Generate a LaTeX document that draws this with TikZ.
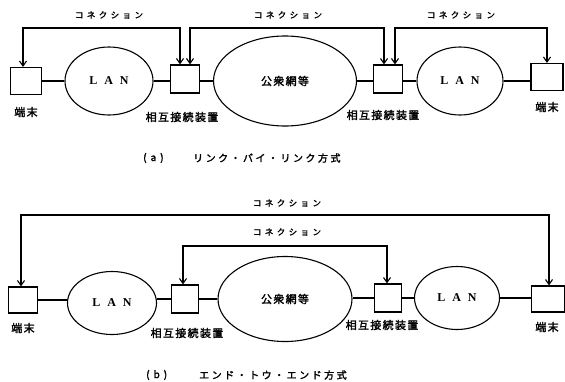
\documentclass[tikz,border=0pt]{standalone}
\usepackage{fontspec}
\setmainfont{Liberation Serif}
\newfontfamily\jpconn[LetterSpace=40,FakeBold=2]{Noto Sans CJK JP}
\newfontfamily\jplabel[LetterSpace=12,FakeBold=2]{Noto Sans CJK JP}
\newfontfamily\jpcap[LetterSpace=25,FakeBold=2]{Noto Sans CJK JP}
\usetikzlibrary{shapes.geometric,arrows.meta}
\tikzset{
  termbox/.style={draw, line width=1.1pt, minimum width=31pt, minimum height=27pt, inner sep=0pt},
  relaybox/.style={draw, line width=1.1pt, minimum width=29pt, minimum height=28pt, inner sep=0pt},
  net/.style={draw, ellipse, line width=1.1pt, inner sep=0pt},
  link/.style={line width=1.1pt},
  conn/.style={line width=1.1pt, {Straight Barb[length=5pt,width=7pt]}-{Straight Barb[length=5pt,width=7pt]}},
  lbl/.style={font=\jplabel\fontsize{11}{11}\selectfont, inner sep=0pt},
  conntext/.style={font=\jpconn\fontsize{8.5}{9}\selectfont, inner sep=0pt},
  captext/.style={font=\jpcap\fontsize{10}{10}\selectfont, inner sep=0pt, anchor=west},
  lantext/.style={font=\bfseries\fontsize{12}{12}\selectfont}
}
\newcommand{\lanword}{L\hspace{7pt}A\hspace{7pt}N}
\begin{document}
\begin{tikzpicture}[x=1pt,y=-1pt]
\useasboundingbox (0,0) rectangle (565,381);

% ---------- (a) ----------
\node[termbox] (at1) at (26,81) {};
\node[net, minimum width=88pt, minimum height=68pt, lantext] (alan1) at (109,81) {\lanword};
\node[relaybox] (ar1) at (185,79) {};
\node[net, minimum width=143pt, minimum height=90pt, lbl] (apub) at (285,81) {公衆網等};
\node[relaybox] (ar2) at (388,79) {};
\node[net, minimum width=86pt, minimum height=68pt, lantext] (alan2) at (460,81) {\lanword};
\node[termbox, minimum width=32pt] (at2) at (547,77) {};

\draw[link] (at1.east) -- (alan1.west);
\draw[link] (alan1.east) -- (alan1.east -| ar1.west);
\draw[link] (ar1.east |- apub.west) -- (apub.west);
\draw[link] (apub.east) -- (apub.east -| ar2.west);
\draw[link] (ar2.east |- alan2.west) -- (alan2.west);
\draw[link] (alan2.east) -- (alan2.east -| at2.west);

\coordinate (ak1) at (104,28);
\coordinate (ak2) at (287,28);
\coordinate (ak3) at (470,28);
\draw[conn] ([xshift=-3pt]at1.north) |- (ak1) -| ([xshift=-5pt]ar1.north);
\draw[conn] ([xshift=5pt]ar1.north) |- (ak2) -| ([xshift=-4pt]ar2.north);
\draw[conn] ([xshift=7pt]ar2.north) |- (ak3) -| (at2.north);
\node[conntext] (ac1) at (109,15) {コネクション};
\node[conntext] (ac2) at (288,15) {コネクション};
\node[conntext] (ac3) at (461,15) {コネクション};

\node[lbl] (aterm1) at (26,112) {端末};
\node[lbl] (aterm2) at (547,107) {端末};
\node[lbl] (arl1) at (182,117) {相互接続装置};
\node[lbl] (arl2) at (383,115) {相互接続装置};

\node[captext] (acapA) at (143,158) {(\hspace{4pt}a\hspace{4pt})};
\node[captext] (acapB) at (193,158) {リンク・バイ・リンク方式};

% ---------- (b) ----------
\node[termbox, minimum width=29pt, minimum height=26pt] (bt1) at (23,300) {};
\node[net, minimum width=89pt, minimum height=63pt, lantext] (blan1) at (112,303) {\lanword};
\node[relaybox, minimum width=27pt] (br1) at (185,299) {};
\node[net, minimum width=134pt, minimum height=85pt, lbl] (bpub) at (285,299) {公衆網等};
\node[relaybox, minimum width=27pt] (br2) at (388,298) {};
\node[net, minimum width=85pt, minimum height=63pt, lantext] (blan2) at (457,298) {\lanword};
\node[termbox, minimum width=33pt, minimum height=26pt] (bt2) at (548,299) {};

\draw[link] (bt1.east) -- (bt1.east -| blan1.west);
\draw[link] (blan1.east |- br1.west) -- (br1.west);
\draw[link] (br1.east) -- (br1.east -| bpub.west);
\draw[link] (bpub.east |- br2.west) -- (br2.west);
\draw[link] (br2.east) -- (br2.east -| blan2.west);
\draw[link] (blan2.east) -- (blan2.east -| bt2.west);

\coordinate (bk1) at (287,215);
\coordinate (bk2) at (287,246);
\draw[conn] ([xshift=-2pt]bt1.north) |- (bk1) -| ([xshift=1pt]bt2.north);
\draw[conn] ([xshift=-2pt]br1.north) |- (bk2) -| ([xshift=-1pt]br2.north);
\node[conntext] (bc1) at (287,203) {コネクション};
\node[conntext] (bc2) at (287,232) {コネクション};

\node[lbl] (bterm1) at (23,328) {端末};
\node[lbl] (bterm2) at (547,327) {端末};
\node[lbl] (brl1) at (187,333) {相互接続装置};
\node[lbl] (brl2) at (382,325) {相互接続装置};

\node[captext] (bcapA) at (146,375) {(\hspace{4pt}b\hspace{4pt})};
\node[captext] (bcapB) at (199,375) {エンド・トウ・エンド方式};
\end{tikzpicture}
\end{document}
